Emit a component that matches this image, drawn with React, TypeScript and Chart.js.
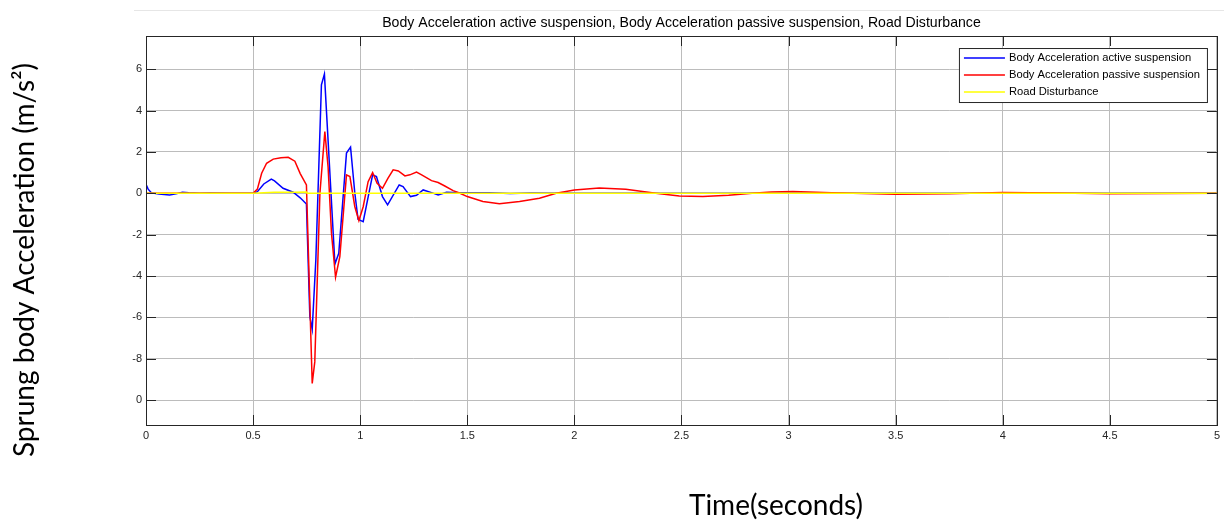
import React, { useEffect, useRef } from 'react';
import { Chart, registerables } from 'chart.js';

Chart.register(...registerables);

const chartTitle =
  'Body Acceleration active suspension, Body Acceleration passive suspension, Road Disturbance';
const seriesLabels = [
  'Body Acceleration active suspension',
  'Body Acceleration passive suspension',
  'Road Disturbance',
];
const seriesColors = ['#0000ff', '#ff0000', '#ffff00'];
const xAxisTitle = 'Time(seconds)';
const yAxisTitle = 'Sprung body Acceleration (m/s\u00b2)';

const xTickValues = [0, 0.5, 1, 1.5, 2, 2.5, 3, 3.5, 4, 4.5, 5];
const xTickLabels = ['0', '0.5', '1', '1.5', '2', '2.5', '3', '3.5', '4', '4.5', '5'];
const yTickValues = [-10, -8, -6, -4, -2, 0, 2, 4, 6];
const yTickLabels = ['0', '-8', '-6', '-4', '-2', '0', '2', '4', '6'];

const activeTime = [
  0, 0.01, 0.025, 0.06, 0.11, 0.14, 0.17, 0.2, 0.25, 0.3, 0.4, 0.5, 0.52, 0.55, 0.585, 0.6,
  0.64, 0.687, 0.72, 0.749, 0.765, 0.776, 0.793, 0.819, 0.833, 0.882, 0.9, 0.936, 0.955,
  0.975, 0.99, 1.014, 1.058, 1.076, 1.104, 1.128, 1.182, 1.2, 1.235, 1.263, 1.294, 1.333,
  1.364, 1.403, 1.466, 1.528, 1.6, 1.7, 1.8, 2.0, 5.0,
];
const activeAccel = [
  0.43, 0.2, 0.02, -0.03, -0.08, -0.03, 0.05, 0.02, 0, 0.01, 0, 0, 0.08, 0.45, 0.68, 0.6,
  0.24, 0.05, -0.22, -0.52, -5.97, -6.58, -3.2, 5.24, 5.76, -3.42, -2.9, 1.94, 2.23,
  0, -1.26, -1.37, 0.89, 0.81, -0.16, -0.56, 0.4, 0.32, -0.16, -0.1, 0.16, 0.03,
  -0.08, 0.05, 0.03, 0.03, 0.02, -0.01, 0.01, 0, 0,
];

const passiveTime = [
  0, 0.5, 0.52, 0.54, 0.563, 0.594, 0.63, 0.664, 0.695, 0.72, 0.749, 0.776, 0.788, 0.812,
  0.835, 0.85, 0.866, 0.885, 0.905, 0.936, 0.952, 0.975, 0.994, 1.014, 1.037, 1.058, 1.079,
  1.104, 1.13, 1.154, 1.178, 1.209, 1.232, 1.263, 1.287, 1.333, 1.364, 1.395, 1.434, 1.466,
  1.5, 1.573, 1.65, 1.744, 1.837, 1.915, 2.0, 2.116, 2.24, 2.38, 2.49, 2.6, 2.72, 2.83, 2.92,
  3.02, 3.2, 3.5, 3.75, 4.0, 4.25, 4.5, 5.0,
];
const passiveAccel = [
  0, 0, 0.2, 0.97, 1.45, 1.65, 1.72, 1.74, 1.55, 0.95, 0.4, -9.19, -8.15, 0,
  2.98, 1.29, -1.94, -4.06, -3.06, 0.89, 0.81, -0.65, -1.32, -0.65, 0.56, 1.0, 0.48,
  0.24, 0.73, 1.13, 1.08, 0.84, 0.89, 1.02, 0.89, 0.61, 0.52, 0.35, 0.13, 0,
  -0.16, -0.4, -0.51, -0.4, -0.24, 0, 0.16, 0.26, 0.19, 0, -0.13, -0.16, -0.1, 0, 0.06,
  0.08, 0.03, -0.05, -0.02, 0.04, 0.01, -0.02, 0,
];

const roadTime = [0, 0.5, 0.55, 0.6, 0.65, 0.7, 0.75, 0.752, 5];
const roadDisturbance = [0, 0, 0.03, 0.045, 0.05, 0.055, 0.06, 0, 0];

const toPoints = (xs: number[], ys: number[]) => xs.map((x, i) => ({ x, y: ys[i] }));

const AXIS_COLOR = '#262626';

const decorPlugin = {
  id: 'decor',
  afterDatasetsDraw(chart: any) {
    const { ctx, chartArea } = chart;
    const { left, right, top, bottom } = chartArea;
    const xs = chart.scales.x;
    const ys = chart.scales.y;
    ctx.save();
    ctx.strokeStyle = AXIS_COLOR;
    ctx.lineWidth = 1;
    const tl = 10;
    ctx.beginPath();
    xTickValues.forEach((v) => {
      const px = Math.round(xs.getPixelForValue(v)) + 0.5;
      ctx.moveTo(px, bottom);
      ctx.lineTo(px, bottom - tl);
      ctx.moveTo(px, top);
      ctx.lineTo(px, top + tl);
    });
    yTickValues.forEach((v) => {
      const py = Math.round(ys.getPixelForValue(v)) + 0.5;
      ctx.moveTo(left, py);
      ctx.lineTo(left + tl, py);
      ctx.moveTo(right, py);
      ctx.lineTo(right - tl, py);
    });
    ctx.stroke();
    ctx.strokeRect(Math.round(left) + 0.5, Math.round(top) + 0.5, Math.round(right - left), Math.round(bottom - top));
    ctx.restore();
  },
  afterDraw(chart: any) {
    const { ctx, chartArea } = chart;
    ctx.save();
    // faint figure edge
    ctx.strokeStyle = '#e6e6e6';
    ctx.lineWidth = 1;
    ctx.beginPath();
    ctx.moveTo(134, 10.5);
    ctx.lineTo(chart.width, 10.5);
    ctx.stroke();

    // legend
    const boxRight = chartArea.right - 10;
    const boxLeft = boxRight - 248;
    const boxTop = chartArea.top + 12;
    const rowH = 17;
    const boxH = 54;
    ctx.fillStyle = '#ffffff';
    ctx.fillRect(boxLeft, boxTop, boxRight - boxLeft, boxH);
    ctx.strokeStyle = AXIS_COLOR;
    ctx.lineWidth = 1;
    ctx.strokeRect(boxLeft + 0.5, boxTop + 0.5, boxRight - boxLeft, boxH);
    ctx.font = '11.2px "Liberation Sans", Arial, sans-serif';
    ctx.textBaseline = 'middle';
    ctx.textAlign = 'left';
    seriesLabels.forEach((label, i) => {
      const y = Math.round(boxTop + 10 + i * rowH);
      ctx.strokeStyle = seriesColors[i];
      ctx.lineWidth = 1.6;
      ctx.beginPath();
      ctx.moveTo(boxLeft + 5, y);
      ctx.lineTo(boxLeft + 46, y);
      ctx.stroke();
      ctx.fillStyle = '#000000';
      ctx.fillText(label, boxLeft + 50, y);
    });

    // axis titles
    ctx.fillStyle = '#000000';
    ctx.font = '28px Lato, "Open Sans", sans-serif';
    ctx.textAlign = 'center';
    ctx.textBaseline = 'alphabetic';
    ctx.fillText(xAxisTitle, 776, 515);
    ctx.translate(34, 260);
    ctx.rotate(-Math.PI / 2);
    ctx.fillText(yAxisTitle, 0, 0);
    ctx.restore();
  },
};

export default function App() {
  const canvasRef = useRef<HTMLCanvasElement | null>(null);

  useEffect(() => {
    const canvas = canvasRef.current;
    if (!canvas) return;
    Chart.defaults.font.family = '"Liberation Sans", Arial, sans-serif';
    const chart = new Chart(canvas, {
      type: 'line',
      data: {
        datasets: [
          {
            label: seriesLabels[0],
            data: toPoints(activeTime, activeAccel),
            borderColor: seriesColors[0],
            borderWidth: 1.5,
            pointRadius: 0,
            tension: 0,
            order: 2,
          },
          {
            label: seriesLabels[1],
            data: toPoints(passiveTime, passiveAccel),
            borderColor: seriesColors[1],
            borderWidth: 1.5,
            pointRadius: 0,
            tension: 0,
            order: 1,
          },
          {
            label: seriesLabels[2],
            data: toPoints(roadTime, roadDisturbance),
            borderColor: seriesColors[2],
            borderWidth: 1.5,
            pointRadius: 0,
            tension: 0,
            order: 0,
          },
        ],
      },
      options: {
        animation: false,
        responsive: false,
        maintainAspectRatio: false,
        layout: { padding: { left: 0, right: 6, top: 0, bottom: 0 } },
        plugins: {
          legend: { display: false },
          tooltip: { enabled: false },
          title: {
            display: true,
            text: chartTitle,
            fullSize: false,
            color: '#000000',
            font: { size: 14.1, weight: 'normal', family: '"Liberation Sans", Arial, sans-serif' },
            padding: { top: 15, bottom: 4.1 },
          },
        },
        scales: {
          x: {
            type: 'linear',
            min: 0,
            max: 5,
            afterBuildTicks: (scale: any) => {
              scale.ticks = xTickValues.map((value) => ({ value }));
            },
            afterFit: (scale: any) => {
              scale.height = 97;
            },
            ticks: {
              color: AXIS_COLOR,
              font: { size: 11 },
              padding: 4,
              maxRotation: 0,
              autoSkip: false,
              callback: (_v: any, i: number) => xTickLabels[i],
            },
            grid: { color: '#bcbcbc', lineWidth: 1, drawTicks: false },
            border: { display: false },
          },
          y: {
            type: 'linear',
            min: -11.2,
            max: 7.6,
            afterBuildTicks: (scale: any) => {
              scale.ticks = yTickValues.map((value) => ({ value }));
            },
            afterFit: (scale: any) => {
              scale.width = 146;
            },
            ticks: {
              color: AXIS_COLOR,
              font: { size: 11 },
              padding: 4,
              autoSkip: false,
              callback: (_v: any, i: number) => yTickLabels[i],
            },
            grid: { color: '#bcbcbc', lineWidth: 1, drawTicks: false },
            border: { display: false },
          },
        },
      },
      plugins: [decorPlugin],
    });
    return () => chart.destroy();
  }, []);

  return (
    <div style={{ position: 'fixed', left: 0, top: 0, width: 1224, height: 522, background: '#ffffff' }}>
      <canvas ref={canvasRef} width={1224} height={522} style={{ display: 'block' }} />
    </div>
  );
}
